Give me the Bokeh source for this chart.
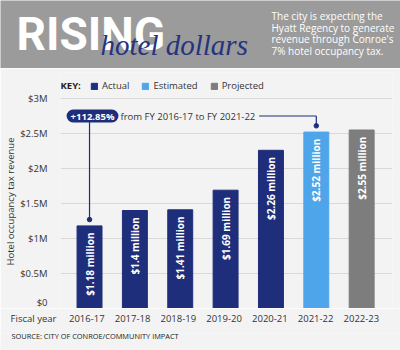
import math
from bokeh.plotting import figure
from bokeh.layouts import column
from bokeh.models import Range1d, FixedTicker, Label, Legend, LegendItem, ColumnDataSource, Title
from bokeh.core.properties import value
from bokeh.embed import file_html
from bokeh.resources import INLINE

# ---- data ----
years = ["2016-17", "2017-18", "2018-19", "2019-20", "2020-21", "2021-22", "2022-23"]
revenue_m = [1.18, 1.40, 1.41, 1.69, 2.26, 2.52, 2.55]
status = ["Actual", "Actual", "Actual", "Actual", "Actual", "Estimated", "Projected"]
bar_labels = ["$1.18 million", "$1.4 million", "$1.41 million", "$1.69 million",
              "$2.26 million", "$2.52 million", "$2.55 million"]
y_ticks = [0, 0.5, 1, 1.5, 2, 2.5, 3]
y_tick_labels = ["$0", "$0.5M", "$1M", "$1.5M", "$2M", "$2.5M", "$3M"]
key_labels = ["Actual", "Estimated", "Projected"]
change_text = "+112.85%"
change_note = "from FY 2016-17 to FY 2021-22"
x_title = "Fiscal year"
y_title = "Hotel occupancy tax revenue"
source_note = "SOURCE: CITY OF CONROE/COMMUNITY IMPACT"
header_lines = ["The city is expecting the", "Hyatt Regency to generate",
                "revenue through Conroe's", "7% hotel occupancy tax."]

COLORS = {"Actual": "#1f2e7a", "Estimated": "#4ea5ea", "Projected": "#7d7d7d"}
NAVY = "#1f2e7a"
BG = "#f3f3f3"
HDR = "#9b9b9b"
FONT = "Open Sans"
TXT = "#333333"
FS = "9.5px"

W = 400
HH = 68
FRAME_L, FRAME_R = 57, 8
X0, X1 = -0.64, 6.68
PPU = (W - FRAME_L - FRAME_R) / (X1 - X0)


def bare(fig, color):
    fig.grid.visible = False
    fig.outline_line_color = None
    fig.background_fill_color = color
    fig.border_fill_color = color


# ---- header (y measured upward from header bottom) ----
hdr = figure(width=W, height=HH, x_range=Range1d(0, W), y_range=Range1d(0, HH),
             toolbar_location=None, output_backend="svg", min_border=0,
             min_border_left=0, min_border_right=0, min_border_top=0, min_border_bottom=0,
             x_axis_location=None, y_axis_location=None, frame_align=False)
bare(hdr, HDR)
hdr.text(x=[16], y=[HH - 33], text=["RISING"], text_font=value("Roboto"),
         text_font_style="bold", text_font_size="46px", text_color="white",
         text_baseline="middle")
hdr.text(x=[100], y=[HH - 44], text=["hotel dollars"], text_font=value("Liberation Serif"),
         text_font_style="italic", text_font_size="29px", text_color="#26337f",
         text_baseline="middle")
hdr.text(x=[271] * 4, y=[HH - 15, HH - 27, HH - 38.5, HH - 50], text=header_lines,
         text_font=value(FONT), text_font_size="10px", text_color="white",
         text_baseline="middle")

# ---- main chart ----
p = figure(width=W, height=240, x_range=Range1d(X0, X1), y_range=Range1d(0, 236 / 70),
           toolbar_location=None, output_backend="svg", x_axis_location=None,
           min_border_left=FRAME_L, min_border_right=FRAME_R, min_border_top=4,
           min_border_bottom=0, frame_align=False)
bare(p, BG)
p.ygrid.visible = True
p.ygrid.ticker = FixedTicker(ticks=y_ticks)
p.ygrid.grid_line_color = "#d8d8d8"

p.yaxis.ticker = FixedTicker(ticks=y_ticks)
p.yaxis.major_label_overrides = dict(zip(y_ticks, y_tick_labels))
p.yaxis.axis_line_color = None
p.yaxis.major_tick_line_color = None
p.yaxis.minor_tick_line_color = None
p.yaxis.major_label_text_font = FONT
p.yaxis.major_label_text_color = TXT
p.yaxis.major_label_text_font_size = FS
p.yaxis.major_label_standoff = 7
p.add_layout(Title(text=y_title, align="left", offset=43, standoff=2,
                   text_font=FONT, text_font_size=FS, text_font_style="normal",
                   text_color=TXT), "left")

src = ColumnDataSource(dict(
    x=list(range(len(years))), top=revenue_m,
    color=[COLORS[s] for s in status], label=bar_labels,
    label_y=[v - 0.095 for v in revenue_m]))
r = p.vbar(x="x", top="top", width=0.55, color="color", source=src)
p.text(x="x", y="label_y", text="label", angle=math.pi / 2, text_align="right",
       text_baseline="middle", text_color="white", text_font=value(FONT),
       text_font_style="bold", text_font_size="10px", source=src)

# connectors
y_line = 2.75
i0 = 0
i1 = years.index("2021-22")
p.segment(x0=[i0], y0=[y_line], x1=[i0], y1=[revenue_m[i0] + 0.09], line_color=NAVY, line_width=1.2)
p.segment(x0=[i1 - 1.26, i1], y0=[y_line, y_line], x1=[i1, i1], y1=[y_line, revenue_m[i1] + 0.09],
          line_color=NAVY, line_width=1.2)
p.scatter(x=[i0, i1], y=[revenue_m[i0] + 0.09, revenue_m[i1] + 0.09], size=4.5, color=NAVY)

p.add_layout(Label(x=i0, y=y_line, x_offset=3, text=change_text, text_align="center",
                   text_baseline="middle", text_color="white", text_font=FONT,
                   text_font_style="bold", text_font_size=FS,
                   background_fill_color=NAVY, border_radius=7, padding=(4, 0)))
p.add_layout(Label(x=i0, y=y_line, x_offset=31, text=change_note, text_align="left",
                   text_baseline="middle", text_color=TXT, text_font=FONT,
                   text_font_size=FS))

# key
items = [LegendItem(label=k, renderers=[r], index=status.index(k)) for k in key_labels]
legend = Legend(items=items, orientation="horizontal", location=(30, 216),
                glyph_width=8, glyph_height=8, label_height=10, label_standoff=4,
                spacing=12, padding=0, margin=0, background_fill_alpha=0,
                border_line_alpha=0, label_text_font=FONT, label_text_font_size=FS,
                label_text_color=TXT)
p.add_layout(legend)
p.add_layout(Label(x=0, y=223, x_units="screen", y_units="screen", text="KEY:",
                   text_baseline="middle", text_font=FONT, text_font_style="bold",
                   text_font_size=FS, text_color="#222222"))

# ---- bottom strip: category axis + source ----
bx0 = X0 - FRAME_L / PPU
bx1 = X1 + FRAME_R / PPU
fy_pos = X0 - (FRAME_L - 33) / PPU
b = figure(width=W, height=42, x_range=Range1d(bx0, bx1), y_range=Range1d(0, 1),
           toolbar_location=None, output_backend="svg", x_axis_location="above",
           y_axis_location=None, min_border=0, min_border_top=22, frame_align=False)
bare(b, BG)
ticks = list(range(len(years))) + [fy_pos]
b.xaxis.ticker = FixedTicker(ticks=ticks)
overrides = {i: y for i, y in enumerate(years)}
overrides[fy_pos] = x_title
b.xaxis.major_label_overrides = overrides
b.xaxis.axis_line_color = None
b.xaxis.major_tick_line_color = None
b.xaxis.minor_tick_line_color = None
b.xaxis.major_label_text_font = FONT
b.xaxis.major_label_text_color = TXT
b.xaxis.major_label_text_font_size = FS
b.xaxis.major_label_standoff = 3
b.add_layout(Label(x=11, y=15, x_units="screen", y_units="screen", text=source_note,
                   text_baseline="middle", text_font=FONT, text_font_size="7.4px",
                   text_color="#222222"))

layout = column(hdr, p, b, spacing=0)
open("out.html", "w").write(file_html(layout, INLINE))
